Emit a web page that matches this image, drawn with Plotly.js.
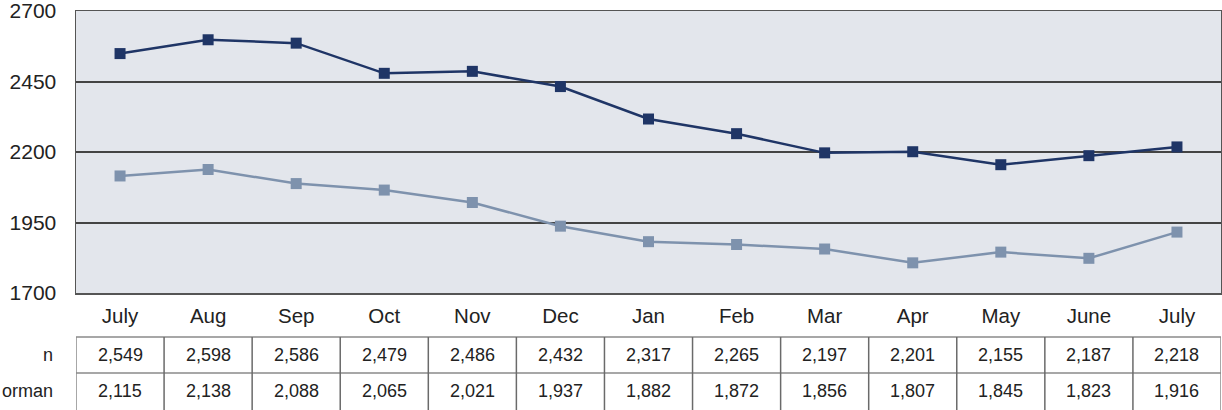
<!DOCTYPE html>
<html><head><meta charset="utf-8">
<script src="https://cdn.plot.ly/plotly-3.0.1.min.js"></script>
<style>html,body{margin:0;padding:0;background:#fff;overflow:hidden}#chart{width:1222px;height:410px}</style>
</head><body><div id="chart"></div>
<script>
const months = ["July","Aug","Sep","Oct","Nov","Dec","Jan","Feb","Mar","Apr","May","June","July"];
const rowLabels = ["n","orman"];
const seriesA = [2549,2598,2586,2479,2486,2432,2317,2265,2197,2201,2155,2187,2218];
const seriesB = [2115,2138,2088,2065,2021,1937,1882,1872,1856,1807,1845,1823,1916];
const yTicks = [1700,1950,2200,2450,2700];

const xIdx = months.map((m,i)=>i);
const fmt = v => v.toLocaleString('en-US');

const traces = [
  {x:xIdx,y:seriesA,mode:'lines+markers',line:{color:'#1f3566',width:2.5},
   marker:{symbol:'square',size:11,color:'#1f3566'},hoverinfo:'skip',cliponaxis:false},
  {x:xIdx,y:seriesB,mode:'lines+markers',line:{color:'#7e92ad',width:2.5},
   marker:{symbol:'square',size:11,color:'#7e92ad'},hoverinfo:'skip',cliponaxis:false}
];

const rowTop = -0.156, rowMid = -0.284, rowBot = -0.45;
const rowCenters = [-0.220, -0.348];
const shapes = [];
const annotations = [];
const tableLine = {color:'#8a8a8a',width:1.5};
shapes.push({type:'line',xref:'x',yref:'paper',x0:-0.5,x1:months.length-0.5,y0:rowTop,y1:rowTop,line:tableLine});
shapes.push({type:'line',xref:'x',yref:'paper',x0:-0.5,x1:months.length-0.5,y0:rowMid,y1:rowMid,line:tableLine});
for(let i=0;i<=months.length;i++){
  shapes.push({type:'line',xref:'x',yref:'paper',x0:i-0.5,x1:i-0.5,y0:rowTop,y1:rowBot,
    line:{color:(i===0||i===months.length)?'#8a8a8a':'#6a6a6a',width:1.5}});
}
[seriesA,seriesB].forEach((s,r)=>{
  s.forEach((v,i)=>{
    annotations.push({xref:'x',yref:'paper',x:i,y:rowCenters[r],text:fmt(v),showarrow:false,
      font:{family:'Liberation Sans, Arial, sans-serif',size:18,color:'#222'},xanchor:'center',yanchor:'middle'});
  });
  annotations.push({xref:'paper',yref:'paper',x:-0.018,y:rowCenters[r],text:rowLabels[r],showarrow:false,
    font:{family:'Liberation Sans, Arial, sans-serif',size:18,color:'#222'},xanchor:'right',yanchor:'middle'});
});

const layout = {
  width:1222,height:410,
  margin:{l:76,r:1,t:11,b:117},
  paper_bgcolor:'#ffffff',plot_bgcolor:'#e3e6ec',
  showlegend:false,
  font:{family:'Liberation Sans, Arial, sans-serif',color:'#222'},
  xaxis:{type:'linear',range:[-0.5,months.length-0.5],tickmode:'array',tickvals:xIdx,ticktext:months,
    showgrid:false,zeroline:false,showline:true,mirror:true,linecolor:'#555',linewidth:1.5,
    ticks:'outside',ticklen:4,tickcolor:'rgba(0,0,0,0)',tickfont:{size:20.5,color:'#222'},fixedrange:true},
  yaxis:{range:[1700,2700],tickmode:'array',tickvals:yTicks,ticktext:yTicks.map(String),
    showgrid:true,gridcolor:'#444',gridwidth:2,zeroline:false,showline:true,mirror:true,
    linecolor:'#555',linewidth:1.5,ticks:'outside',ticklen:14,tickcolor:'rgba(0,0,0,0)',
    ticklabeloverflow:'allow',
    tickfont:{size:21,color:'#222'},fixedrange:true},
  shapes:shapes,annotations:annotations
};
Plotly.newPlot('chart',traces,layout,{staticPlot:true,displayModeBar:false});
</script></body></html>
